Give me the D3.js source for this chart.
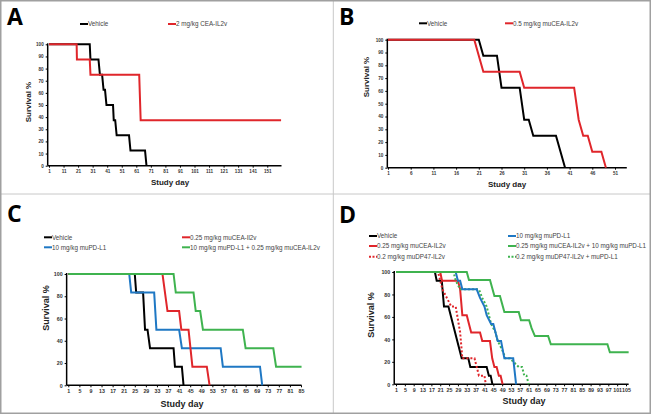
<!DOCTYPE html>
<html><head><meta charset="utf-8">
<script src="https://cdn.jsdelivr.net/npm/d3@7/dist/d3.min.js"></script>
<style>body{margin:0;background:#fff}svg{display:block}</style>
</head><body>
<svg id="chart" width="651" height="417"></svg>
<script>
// ---------- DATA (survival %) ----------
// Panel A
const aXTicks = [1,11,21,31,41,51,61,71,81,91,101,111,121,131,141,151];
const aYTicks = [0,10,20,30,40,50,60,70,80,90,100];
const aVehicle = [[1,100],[29,100],[29.5,87.5],[35,87.5],[36,75],[37.5,75],[38.5,62.5],[39.5,62.5],[40.5,50],[45,50],[45.5,37.5],[46.5,37.5],[47.5,25],[56,25],[57,12.5],[67,12.5],[68,0]];
const aCEA = [[1,100],[20,100],[20.2,87.5],[29,87.5],[29.5,75],[63,75],[64,37.5],[160.5,37.5]];
// Panel B
const bXTicks = [1,6,11,16,21,26,31,36,41,46,51];
const bYTicks = [0,10,20,30,40,50,60,70,80,90,100];
const bVehicle = [[1,100],[21,100],[22,87.5],[25,87.5],[26,62.5],[30,62.5],[31,37.5],[32,37.5],[33,25],[38,25],[40,0]];
const bMuCEA = [[1,100],[20,100],[22,75],[30,75],[31,62.5],[42,62.5],[43,37.5],[44,25],[45,25],[46,12.5],[48,12.5],[49,0]];
// Panel C
const cXTicks = [1,5,9,13,17,21,25,29,33,37,41,45,49,53,57,61,65,69,73,77,81,85];
const cYTicks = [0,20,40,60,80,100];
const cVehicle = [[1,100],[25,100],[25.5,83.3],[28,83.3],[28.7,50],[29.6,50],[30.5,33.3],[39,33.3],[39.5,16.7],[42,16.7],[42.6,0]];
const cPDL1 = [[1,100],[23,100],[23.7,83.3],[32,83.3],[32.8,50],[41,50],[42,33.3],[56,33.3],[56.8,16.7],[70.2,16.7],[71,0]];
const cMuCEA = [[1,100],[35,100],[36.8,66.7],[41,66.7],[41.8,50],[44.4,50],[45.8,16.7],[51,16.7],[52,0]];
const cCombo = [[1,100],[39,100],[39.8,83.3],[46.2,83.3],[47,66.7],[48.6,66.7],[49.6,50],[64,50],[65,33.3],[75,33.3],[76,16.7],[85.2,16.7]];
// Panel D
const dXTicks = [1,5,9,13,17,21,25,29,33,37,41,45,49,53,57,61,65,69,73,77,81,85,89,93,97,101,105];
const dYTicks = [0,20,40,60,80,100];
const dVehicle = [[1,100],[18.6,100],[19.4,92.3],[21.7,92.3],[22.7,69.2],[24.7,69.2],[30.7,23.1],[33.7,23.1],[34.6,15.4],[42,15.4],[43,7.7],[43.8,7.7],[44.6,0]];
const dMuCEA = [[1,100],[21,100],[21.8,92.3],[29,92.3],[30,84.6],[31,61.5],[33,61.5],[34,53.8],[35,46.2],[39,46.2],[40,38.5],[43.5,38.5],[44.5,23.1],[45.5,15.4],[46.5,15.4],[47.5,7.7],[48.3,7.7],[49.2,0]];
const dDP47 = [[1,100],[20,100],[21,92.3],[22,84.6],[24,76.9],[26,69.2],[28,69.2],[30,46.2],[31,23.1],[36.5,23.1],[37.5,15.4],[38.5,7.7],[41,7.7],[41.6,0]];
const dPDL1 = [[1,100],[28,100],[29,92.3],[30,92.3],[31,84.6],[37.5,84.6],[39,76.9],[41,69.2],[42,61.5],[44,53.8],[45,53.8],[46,46.2],[47,38.5],[48.5,38.5],[50,23.1],[54,23.1],[55.3,0]];
const dCombo = [[1,100],[33,100],[34,92.9],[43.5,92.9],[44.5,85.7],[45.5,78.6],[48,78.6],[50,64.3],[56.5,64.3],[57.5,57.1],[61.2,57.1],[62.3,50],[63.8,42.9],[69.8,42.9],[71,35.7],[96.6,35.7],[97.7,28.6],[106.2,28.6]];
const dDP47Combo = [[1,100],[27,100],[28,92.3],[30,84.6],[38.5,84.6],[40,76.9],[42,69.2],[43,61.5],[44,53.8],[46,46.2],[47,38.5],[49,30.8],[50.5,23.1],[52.5,23.1],[56.5,15.4],[58,15.4],[59,7.7],[60,7.7],[61,0]];

// ---------- DRAWING ----------
const RED = "#e0262b", BLACK = "#000", BLUE = "#1f78c4", GREEN = "#3fb34f";
const svg = d3.select("#chart");
svg.append("rect").attr("x",0).attr("y",0).attr("width",651).attr("height",417).attr("fill","#fff");

function drawPanel(p) {
  const x = d3.scaleLinear().domain(p.xDom).range(p.xRange);
  const y = d3.scaleLinear().domain([0,100]).range(p.yRange);
  const g = svg.append("g");
  // x axis
  const xa = d3.axisBottom(x).tickValues(p.xTicks).tickSize(2).tickSizeOuter(0).tickPadding(2).tickFormat(d => d);
  const gx = g.append("g").attr("transform", `translate(0,${y(0)})`).call(xa);
  gx.select(".domain").remove();
  gx.selectAll("line").attr("stroke","#000").attr("stroke-width",1);
  gx.selectAll("text").attr("font-family","Liberation Sans, Arial").attr("font-size",p.tickFont).attr("font-weight","bold").attr("fill","#333");
  // y axis
  const ya = d3.axisLeft(y).tickValues(p.yTicks).tickSize(2).tickSizeOuter(0).tickPadding(2);
  const gy = g.append("g").attr("transform", `translate(${x(p.axisStart)},0)`).call(ya);
  gy.select(".domain").remove();
  gy.selectAll("line").attr("stroke","#000").attr("stroke-width",1);
  gy.selectAll("text").attr("font-family","Liberation Sans, Arial").attr("font-size",p.tickFont).attr("font-weight","bold").attr("fill","#333");
  // axis lines
  g.append("line").attr("x1",x(p.axisStart)).attr("x2",x(p.axisEnd)).attr("y1",y(0)).attr("y2",y(0)).attr("stroke","#000").attr("stroke-width",1.5);
  g.append("line").attr("x1",x(p.axisStart)).attr("x2",x(p.axisStart)).attr("y1",y(0)).attr("y2",y(100)-1).attr("stroke","#000").attr("stroke-width",1.5);
  // series
  const line = d3.line().x(d => x(d[0])).y(d => y(d[1]));
  p.series.forEach(s => {
    g.append("path").datum(s.data).attr("d", line).attr("fill","none")
      .attr("stroke", s.color).attr("stroke-width", 2)
      .attr("stroke-dasharray", s.dash ? "2,2" : null)
      .attr("stroke-linejoin","miter");
  });
  // legend
  p.legend.forEach(l => {
    g.append("line").attr("x1",l.x).attr("x2",l.x+8).attr("y1",l.y).attr("y2",l.y)
      .attr("stroke",l.color).attr("stroke-width",2).attr("stroke-dasharray", l.dash ? "2,1.5" : null);
    g.append("text").attr("x",l.x+8).attr("y",l.y+2.2).text(l.label)
      .attr("font-family","Liberation Sans, Arial").attr("font-size",p.legFont).attr("fill","#444");
  });
  // titles
  g.append("text").attr("x",p.xTitle[0]).attr("y",p.xTitle[1]).attr("text-anchor","middle")
    .attr("font-family","Liberation Sans, Arial").attr("font-weight","bold").attr("font-size",p.titleFont)
    .attr("fill","#222").text(p.xTitleText);
  g.append("text").attr("transform",`translate(${p.yTitle[0]},${p.yTitle[1]}) rotate(-90)`).attr("text-anchor","middle")
    .attr("font-family","Liberation Sans, Arial").attr("font-weight","bold").attr("font-size",p.titleFont)
    .attr("fill","#222").text(p.yTitleText);
  // panel letter
  g.append("text").attr("x",p.letterPos[0]).attr("y",p.letterPos[1]).text(p.letter)
    .attr("font-family","Open Sans, Liberation Sans, Arial").attr("font-weight","bold").attr("font-size",23).attr("fill","#000");
}

drawPanel({
  letter:"A", letterPos:[7,25],
  xDom:[1,161], xRange:[49,281.8], yRange:[165.7,44.3], axisStart:0.1, axisEnd:160.8,
  xTicks:aXTicks, yTicks:aYTicks, tickFont:4.6, legFont:6.3, titleFont:8,
  xTitle:[170,185], xTitleText:"Study  day", yTitle:[31,102], yTitleText:"Survival %",
  series:[{data:aVehicle,color:BLACK},{data:aCEA,color:RED}],
  legend:[{x:80,y:24,color:BLACK,label:"Vehicle"},{x:168,y:24,color:RED,label:"2 mg/kg  CEA-IL2v"}]
});
drawPanel({
  letter:"B", letterPos:[339,25],
  xDom:[1,51], xRange:[388,615], yRange:[167.7,39.7], axisStart:0.85, axisEnd:53.6,
  xTicks:bXTicks, yTicks:bYTicks, tickFont:4.6, legFont:6.3, titleFont:8,
  xTitle:[507,187], xTitleText:"Study  day", yTitle:[369,77], yTitleText:"Survival  %",
  series:[{data:bVehicle,color:BLACK},{data:bMuCEA,color:RED}],
  legend:[{x:419,y:23.3,color:BLACK,label:"Vehicle"},{x:505,y:23.3,color:RED,label:"0.5 mg/kg muCEA-IL2v"}]
});
drawPanel({
  letter:"C", letterPos:[7,222],
  xDom:[1,85], xRange:[68.3,301], yRange:[385.3,274], axisStart:0.4, axisEnd:85.2,
  xTicks:cXTicks, yTicks:cYTicks, tickFont:5.3, legFont:6.3, titleFont:9,
  xTitle:[182,407], xTitleText:"Study day", yTitle:[49,308], yTitleText:"Survival %",
  series:[{data:cVehicle,color:BLACK},{data:cPDL1,color:BLUE},{data:cMuCEA,color:RED},{data:cCombo,color:GREEN}],
  legend:[{x:44,y:237.3,color:BLACK,label:"Vehicle"},{x:44,y:247.3,color:BLUE,label:"10 mg/kg muPD-L1"},
          {x:182,y:237.3,color:RED,label:"0.25 mg/kg muCEA-Il2v"},{x:182,y:247.3,color:GREEN,label:"10 mg/kg muPD-L1  + 0.25 mg/kg muCEA-IL2v"}]
});
drawPanel({
  letter:"D", letterPos:[339,223],
  xDom:[1,105], xRange:[396,626], yRange:[384.3,272], axisStart:0.2, axisEnd:106.2,
  xTicks:dXTicks, yTicks:dYTicks, tickFont:5.3, legFont:6.3, titleFont:9,
  xTitle:[524,404], xTitleText:"Study day", yTitle:[374,315], yTitleText:"Survival %",
  series:[{data:dVehicle,color:BLACK},{data:dDP47,color:RED,dash:true},{data:dMuCEA,color:RED},
          {data:dDP47Combo,color:GREEN,dash:true},{data:dPDL1,color:BLUE},{data:dCombo,color:GREEN}],
  legend:[{x:369,y:236,color:BLACK,label:"Vehicle"},{x:369,y:246,color:RED,label:"0.25 mg/kg muCEA-IL2v"},
          {x:369,y:256.7,color:RED,dash:true,label:"0.2 mg/kg muDP47-IL2v"},
          {x:508,y:236,color:BLUE,label:"10 mg/kg muPD-L1"},{x:508,y:246,color:GREEN,label:"0.25 mg/kg  muCEA-IL2v + 10 mg/kg muPD-L1"},
          {x:508,y:256.7,color:GREEN,dash:true,label:"0.2 mg/kg  muDP47-IL2v + muPD-L1"}]
});

// frame and dividers
svg.append("line").attr("x1",333.3).attr("x2",333.3).attr("y1",0).attr("y2",413).attr("stroke","#c8c8c8").attr("stroke-width",1);
svg.append("line").attr("x1",0).attr("x2",651).attr("y1",194).attr("y2",194).attr("stroke","#c8c8c8").attr("stroke-width",1);
svg.append("rect").attr("x",0.75).attr("y",0.75).attr("width",649.5).attr("height",412.5).attr("fill","none").attr("stroke","#a0a0a0").attr("stroke-width",1.5);
</script>
</body></html>
